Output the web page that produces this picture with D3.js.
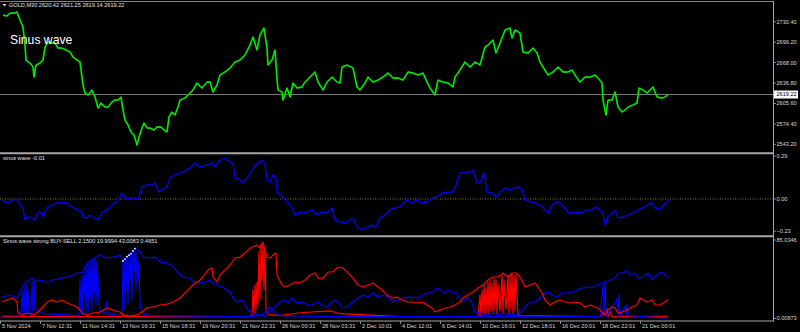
<!DOCTYPE html>
<html>
<head>
<meta charset="utf-8">
<script src="https://cdn.jsdelivr.net/npm/d3@7/dist/d3.min.js"></script>
<style>
  html, body { margin: 0; padding: 0; background: #000; }
  svg { display: block; }
  text { font-family: "Liberation Sans", Arial, sans-serif; }
</style>
</head>
<body>
<svg id="chart" width="800" height="332"></svg>
<script>
// bar index (compressed M30 bars)
const priceTicks = [2730.40, 2699.20, 2668.00, 2636.80, 2605.60, 2574.40, 2543.20];
const lastPrice = 2619.22;
const timeLabels = ['5 Nov 2024', '7 Nov 12:31', '11 Nov 14:31', '13 Nov 16:31', '15 Nov 18:31',
  '19 Nov 20:31', '21 Nov 22:31', '26 Nov 00:31', '28 Nov 03:31', '2 Dec 10:01', '4 Dec 12:01',
  '6 Dec 14:01', '10 Dec 16:01', '12 Dec 18:01', '16 Dec 20:01', '18 Dec 22:01', '21 Dec 00:01'];
const barsPerLabel = 40;

const price = [
  [3,2740.6],[7,2739.1],[10,2743.6],[15,2743.6],[17,2745.2],[20,2733.0],[23,2722.3],[25,2694.8],
  [26,2671.9],[28,2668.8],[30,2667.3],[33,2661.2],[34,2645.9],[36,2664.2],[40,2667.3],[43,2671.9],
  [45,2691.7],[48,2699.4],[52,2697.8],[55,2697.8],[58,2690.2],[62,2690.2],[66,2687.2],[70,2684.1],
  [73,2676.5],[77,2671.9],[80,2668.8],[83,2633.7],[85,2621.5],[88,2618.4],[92,2626.1],[95,2615.4],
  [98,2598.6],[101,2606.2],[105,2600.1],[108,2600.1],[112,2607.7],[115,2610.8],[118,2610.8],[121,2615.4],
  [123,2595.5],[125,2580.3],[128,2572.6],[131,2562.0],[134,2557.4],[137,2542.1],[139,2554.3],[142,2568.0],
  [144,2575.7],[147,2568.0],[150,2568.0],[154,2565.0],[157,2569.6],[161,2569.6],[164,2565.0],[167,2562.0],
  [169,2584.8],[172,2592.5],[175,2587.9],[178,2600.1],[180,2610.8],[185,2613.9],[190,2621.5],[193,2626.1],
  [197,2636.8],[202,2629.1],[207,2638.3],[210,2638.3],[213,2623.0],[217,2633.7],[220,2649.0],[225,2653.6],
  [230,2659.7],[235,2668.8],[240,2671.9],[245,2679.5],[250,2694.8],[253,2707.0],[257,2687.2],[260,2710.1],
  [264,2720.7],[267,2690.2],[268,2664.2],[272,2671.9],[275,2687.2],[277,2644.4],[278,2626.1],[282,2623.0],
  [283,2610.8],[287,2629.1],[290,2615.4],[293,2636.8],[297,2629.1],[302,2630.7],[305,2638.3],[310,2645.9],
  [315,2653.6],[318,2638.3],[323,2626.1],[327,2638.3],[332,2645.9],[337,2638.3],[340,2636.8],[342,2661.2],
  [347,2664.2],[353,2659.7],[357,2630.7],[360,2626.1],[365,2636.8],[368,2645.9],[373,2638.3],[378,2641.3],
  [383,2645.9],[388,2652.0],[393,2644.4],[398,2644.4],[403,2641.3],[408,2653.6],[413,2652.0],[418,2649.0],
  [423,2652.0],[427,2638.3],[430,2629.1],[435,2618.4],[438,2641.3],[443,2638.3],[448,2636.8],[453,2630.7],
  [455,2645.9],[460,2656.6],[465,2668.8],[470,2661.2],[475,2668.8],[480,2664.2],[485,2691.7],[488,2694.8],
  [493,2702.4],[496,2682.6],[500,2697.8],[505,2717.7],[510,2720.7],[512,2705.5],[515,2717.7],[520,2713.1],
  [523,2684.1],[528,2682.6],[533,2690.2],[537,2682.6],[540,2668.8],[543,2661.2],[548,2649.0],[553,2653.6],
  [558,2661.2],[563,2653.6],[568,2653.6],[572,2656.6],[575,2649.0],[580,2638.3],[585,2645.9],[590,2645.9],
  [595,2649.0],[598,2644.4],[602,2636.8],[603,2610.8],[606,2587.9],[608,2610.8],[612,2610.8],[615,2623.0],
  [618,2600.1],[622,2592.5],[625,2595.5],[628,2600.1],[633,2603.2],[637,2606.2],[639,2629.1],[643,2626.1],
  [647,2621.5],[650,2626.1],[653,2630.7],[657,2615.4],[662,2613.9],[665,2615.4],[668,2619.22]
];

const sinusTicks = [0.29, 0.00, -0.23];
const sinus = [
  [2,-0.006],[5,-0.019],[8,-0.026],[13,-0.006],[17,0],[20,-0.039],[23,-0.058],[25,-0.136],[28,-0.117],
  [32,-0.123],[35,-0.136],[38,-0.084],[42,-0.091],[43,-0.117],[47,-0.058],[52,-0.039],[57,-0.026],
  [62,-0.026],[67,-0.026],[72,-0.052],[77,-0.071],[82,-0.084],[83,-0.117],[87,-0.123],[90,-0.104],
  [93,-0.117],[98,-0.136],[102,-0.091],[107,-0.071],[112,-0.039],[117,-0.019],[122,0.039],[125,0.006],
  [130,0.006],[135,0.006],[138,-0.006],[142,0.078],[147,0.091],[152,0.091],[155,0.104],[159,0.045],
  [163,0.065],[167,0.078],[170,0.136],[175,0.156],[183,0.175],[190,0.201],[195,0.234],[200,0.208],
  [207,0.221],[212,0.234],[215,0.208],[220,0.253],[225,0.266],[230,0.240],[233,0.234],[235,0.136],
  [240,0.123],[243,0.104],[248,0.143],[253,0.201],[258,0.234],[263,0.253],[265,0.221],[267,0.123],
  [270,0.110],[273,0.156],[276,0.136],[277,0.045],[282,0.013],[285,-0.006],[288,-0.026],[292,-0.058],
  [295,-0.104],[300,-0.084],[305,-0.091],[312,-0.071],[317,-0.104],[322,-0.084],[327,-0.091],[332,-0.058],
  [335,-0.136],[340,-0.149],[345,-0.156],[350,-0.136],[353,-0.123],[357,-0.182],[362,-0.201],[367,-0.182],
  [372,-0.169],[375,-0.188],[380,-0.123],[385,-0.104],[390,-0.071],[395,-0.058],[400,-0.052],[407,-0.006],
  [412,-0.026],[417,-0.006],[422,-0.026],[427,-0.019],[432,0.006],[437,0.013],[442,0.039],[447,0.045],
  [452,0.045],[455,0.071],[460,0.169],[465,0.169],[470,0.175],[473,0.188],[477,0.104],[480,0.104],
  [484,0.169],[487,0.045],[492,0.039],[497,0.013],[500,0.045],[505,0.071],[510,0.058],[515,0.071],
  [518,0.078],[522,0.058],[525,-0.006],[530,-0.019],[535,-0.026],[540,-0.039],[543,-0.058],[548,-0.091],
  [552,-0.039],[557,-0.019],[560,-0.026],[565,-0.058],[568,-0.091],[573,-0.091],[578,-0.084],[582,-0.091],
  [587,-0.071],[592,-0.071],[596,-0.052],[600,-0.071],[603,-0.091],[605,-0.169],[608,-0.117],[612,-0.091],
  [615,-0.071],[618,-0.123],[623,-0.117],[628,-0.104],[633,-0.091],[638,-0.071],[643,-0.058],[647,-0.039],
  [652,-0.026],[655,-0.058],[660,-0.071],[663,-0.039],[667,-0.026],[669,-0.01]
];

const strongTicks = [85.0346, 0.00873];
const buyMain = [
  [2,22.4],[10,24.5],[17,21.4],[23,34.9],[27,38.1],[32,42.2],[35,38.1],[40,40.2],[47,38.1],[53,40.2],
  [60,42.2],[67,43.3],[73,45.4],[78,47.5],[83,48.5],[87,57.9],[92,61.0],[97,64.1],[100,66.2],[107,63.1],
  [113,64.1],[120,66.2],[123,61.0],[128,66.2],[133,71.4],[135,73.5],[140,69.4],[143,64.1],[150,63.1],
  [155,64.1],[160,58.9],[167,57.9],[173,54.8],[177,48.5],[183,43.3],[190,42.2],[193,38.1],[198,38.1],
  [203,37.0],[210,40.2],[213,37.0],[217,34.9],[222,32.9],[227,29.7],[230,27.6],[233,21.4],[237,17.2],
  [242,19.3],[245,14.1],[248,8.9],[252,5.7],[257,3.7],[262,3.7],[265,1.6],[268,5.7],[272,8.9],[275,12.0],
  [280,17.2],[285,19.3],[288,16.2],[292,21.4],[297,16.2],[302,17.2],[307,14.1],[313,14.1],[318,17.2],
  [322,14.1],[327,12.0],[332,17.2],[335,19.3],[338,17.2],[342,11.0],[347,12.0],[353,17.2],[358,21.4],
  [363,24.5],[368,22.4],[373,26.6],[378,22.4],[383,24.5],[388,22.4],[393,17.2],[398,19.3],[403,21.4],
  [408,22.4],[413,22.4],[418,21.4],[423,24.5],[428,26.6],[433,27.6],[437,31.8],[440,29.7],[445,26.6],
  [448,29.7],[453,27.6],[457,26.6],[460,19.3],[465,19.3],[468,21.4],[472,16.2],[475,6.8],[480,5.7],
  [487,3.7],[493,5.7],[498,3.7],[503,5.7],[508,3.7],[513,4.7],[517,3.7],[520,5.7],[525,12.0],[530,17.2],
  [535,17.2],[540,21.4],[545,26.6],[548,27.6],[552,24.5],[557,22.4],[562,26.6],[567,26.6],[572,27.6],
  [577,29.7],[582,31.8],[587,32.9],[592,31.8],[597,34.9],[602,37.0],[605,38.1],[610,40.2],[615,42.2],
  [618,47.5],[623,47.5],[627,50.6],[630,45.4],[635,47.5],[638,42.2],[643,43.3],[648,47.5],[652,40.2],
  [657,45.4],[662,48.5],[665,45.4],[668,43.0083]
];
const sellMain = [
  [2,17.2],[7,19.3],[13,21.4],[17,17.2],[18,5.7],[22,3.7],[27,5.7],[33,3.7],[38,6.8],[43,12.0],[47,17.2],
  [52,19.3],[57,17.2],[62,19.3],[67,16.2],[72,14.1],[77,12.0],[80,8.9],[82,5.7],[87,3.7],[93,5.7],
  [100,6.8],[107,11.0],[113,8.9],[120,6.8],[123,3.7],[130,2.6],[137,3.7],[142,6.8],[147,11.0],[153,12.0],
  [160,14.1],[167,15.1],[173,17.2],[180,21.4],[185,26.6],[190,31.8],[195,37.0],[198,38.1],[203,43.3],
  [208,50.6],[212,52.7],[213,43.3],[217,38.1],[220,45.4],[225,50.6],[230,55.8],[235,63.1],[240,64.1],
  [245,68.3],[248,71.4],[252,74.6],[257,76.6],[260,73.5],[263,78.7],[267,64.1],[270,63.1],[273,66.2],
  [276,68.3],[277,45.4],[282,34.9],[285,32.9],[290,34.9],[295,38.1],[300,37.0],[305,40.2],[310,45.4],
  [315,47.5],[318,42.2],[323,42.2],[328,48.5],[333,48.5],[338,53.7],[343,52.7],[348,47.5],[353,42.2],
  [358,34.9],[363,32.9],[368,34.9],[373,37.0],[378,32.9],[382,29.7],[387,24.5],[392,21.4],[397,22.4],
  [402,19.3],[407,17.2],[412,17.2],[417,16.2],[422,17.2],[427,14.1],[432,11.0],[435,6.8],[440,8.9],
  [445,11.0],[450,12.0],[455,14.1],[460,17.2],[463,21.4],[468,24.5],[473,27.6],[478,31.8],[483,34.9],
  [488,40.2],[493,43.3],[498,43.3],[503,47.5],[508,43.3],[512,47.5],[517,47.5],[522,40.2],[525,32.9],
  [530,34.9],[535,37.0],[538,32.9],[542,26.6],[545,19.3],[550,14.1],[555,17.2],[560,19.3],[565,17.2],
  [570,16.2],[575,17.2],[580,16.2],[585,12.0],[590,14.1],[595,12.0],[598,11.0],[602,6.8],[605,3.7],
  [608,8.9],[612,12.0],[615,11.0],[618,5.7],[622,6.8],[627,8.9],[632,12.0],[637,14.1],[640,21.4],
  [647,17.2],[652,19.3],[655,14.1],[660,14.1],[665,17.2],[668,19.9994]
];
const buyPulse = [
  [2,3],[15,3],[21,3],[22,28],[23,4],[24,33],[25,5],[26,35],[27,3],[28,30],[29,6],[31,5],[32,38],[33,4],
  [34,40],[35,10],[38,8],[45,5],[60,4],[79,3],[80,40],[81,5],[82,45],[83,4],[84,48],[86,6],[87,55],[88,8],
  [89,58],[90,20],[91,60],[92,10],[93,62],[94,25],[95,64],[96,15],[97,60],[98,40],[99,20],[100,8],[105,6],
  [107,18],[108,5],[110,4],[122,3],[123,60],[124,10],[125,62],[126,30],[127,64],[128,15],[129,66],[130,40],
  [131,68],[132,20],[133,70],[134,50],[135,72],[136,30],[137,68],[138,40],[139,60],[140,15],[142,5],
  [150,3],[250,2],[262,3],[266,8],[270,12],[275,6],[280,3],[330,2],[400,2],[470,2],[600,2],[603,35],
  [604,3],[605,38],[606,2],[617,20],[618,2],[619,25],[620,3],[625,12],[626,3],[627,15],[628,3],[668,0.4651]
];
const sellPulse = [
  [2,2],[250,2],[252,3],[253,30],[254,5],[255,35],[256,10],[257,38],[258,15],[259,70],[260,20],[261,78],
  [262,40],[263,80],[264,30],[265,75],[266,10],[268,4],[280,3],[300,6],[330,8],[340,5],[400,2],[478,2],
  [480,25],[481,3],[482,30],[483,5],[484,35],[485,4],[486,32],[487,6],[488,38],[489,5],[490,40],[491,8],
  [492,36],[493,5],[494,42],[495,10],[496,40],[497,4],[498,35],[500,8],[502,45],[503,5],[504,40],[506,10],
  [508,45],[509,5],[510,45],[511,10],[512,47],[513,5],[514,45],[515,8],[516,46],[518,4],[520,3],[600,2],
  [607,10],[608,2],[610,8],[612,2],[668,2.15]
];
const signalDots = [[123,60.0],[125,62.0],[127,64.5],[129,66.0],[131,67.5],[133,70.5],[135,73.0]];

const svg = d3.select('#chart');
const W = 773;

const x = d3.scaleLinear().domain([0, 773]).range([0, W]);
const yPrice = d3.scaleLinear().domain([2543.2, 2730.4]).range([144.3, 21.7]);
const ySin = d3.scaleLinear().domain([-0.23, 0.29]).range([234.4, 154.3]);
const yStr = d3.scaleLinear().domain([0.00873, 85.0346]).range([318.5, 237]);

const panels = [
  { id: 'p1', top: 2, bottom: 152 },
  { id: 'p2', top: 154.5, bottom: 235 },
  { id: 'p3', top: 237.5, bottom: 320.5 }
];

const defs = svg.append('defs');
panels.forEach(p => {
  defs.append('clipPath').attr('id', 'clip-' + p.id)
    .append('rect').attr('x', 0).attr('y', p.top).attr('width', W).attr('height', p.bottom - p.top);
});

// frames / separators
svg.append('rect').attr('width', 800).attr('height', 332).attr('fill', '#000');
svg.append('line').attr('x1', 0).attr('x2', W + 0.5).attr('y1', 1.5).attr('y2', 1.5)
  .attr('stroke', '#808080').attr('stroke-width', 1);
[153.3, 236.2].forEach(yy => {
  svg.append('line').attr('x1', 0).attr('x2', W + 0.5).attr('y1', yy).attr('y2', yy)
    .attr('stroke', '#a8a8a8').attr('stroke-width', 2);
});
svg.append('line').attr('x1', 0).attr('x2', W + 0.5).attr('y1', 321).attr('y2', 321)
  .attr('stroke', '#a8a8a8').attr('stroke-width', 1);
svg.append('line').attr('x1', W + 0.5).attr('x2', W + 0.5).attr('y1', 1).attr('y2', 321.5)
  .attr('stroke', '#a8a8a8').attr('stroke-width', 1);

function lineFor(yScale) {
  return d3.line().x(d => x(d[0])).y(d => yScale(d[1]));
}

// panel 1: price
const g1 = svg.append('g').attr('clip-path', 'url(#clip-p1)');
g1.append('line').attr('x1', 0).attr('x2', W).attr('y1', yPrice(lastPrice)).attr('y2', yPrice(lastPrice))
  .attr('stroke', '#7a7a7a').attr('stroke-width', 1);
g1.append('path').datum(price).attr('d', lineFor(yPrice))
  .attr('fill', 'none').attr('stroke', '#00a800').attr('stroke-width', 1.8).attr('stroke-linejoin', 'round');
g1.append('path').datum(price).attr('d', lineFor(yPrice))
  .attr('fill', 'none').attr('stroke', '#00ff00').attr('stroke-width', 0.9).attr('stroke-linejoin', 'round');

// panel 2: sinus wave
const g2 = svg.append('g').attr('clip-path', 'url(#clip-p2)');
g2.append('line').attr('x1', 0).attr('x2', W).attr('y1', ySin(0)).attr('y2', ySin(0))
  .attr('stroke', '#8a7a20').attr('stroke-width', 1).attr('stroke-dasharray', '1,1.5');
g2.append('path').datum(sinus).attr('d', lineFor(ySin))
  .attr('fill', 'none').attr('stroke', '#0000ff').attr('stroke-width', 1.3).attr('stroke-linejoin', 'round');

// panel 3: strong BUY-SELL
const g3 = svg.append('g').attr('clip-path', 'url(#clip-p3)');
[[sellPulse, '#ff0000'], [buyPulse, '#0000ff'], [buyMain, '#0000ff'], [sellMain, '#ff0000']].forEach(s => {
  g3.append('path').datum(s[0]).attr('d', lineFor(yStr))
    .attr('fill', 'none').attr('stroke', s[1]).attr('stroke-width', 1.2).attr('stroke-linejoin', 'round');
});
g3.selectAll('circle.sig').data(signalDots).enter().append('circle').attr('class', 'sig')
  .attr('cx', d => x(d[0])).attr('cy', d => yStr(d[1])).attr('r', 0.9).attr('fill', '#ffffff');

// right axis labels
const axisColor = '#d8d8d8';
const fs = '5.6px';
function rightLabel(txt, yy) {
  svg.append('line').attr('x1', W + 0.5).attr('x2', W + 3).attr('y1', yy).attr('y2', yy)
    .attr('stroke', '#a8a8a8').attr('stroke-width', 0.8);
  svg.append('text').attr('x', W + 3.5).attr('y', yy).attr('dy', '0.35em')
    .attr('fill', axisColor).attr('font-size', fs).text(txt);
}
priceTicks.forEach(t => rightLabel(d3.format('.2f')(t), yPrice(t)));
rightLabel(d3.format('.2f')(sinusTicks[0]), ySin(sinusTicks[0]) + 1.8);
rightLabel(d3.format('.2f')(sinusTicks[1]), ySin(sinusTicks[1]));
rightLabel(d3.format('.2f')(sinusTicks[2]), ySin(sinusTicks[2]) - 3.2);
rightLabel(String(strongTicks[0]), yStr(strongTicks[0]) + 3);
rightLabel(String(strongTicks[1]), yStr(strongTicks[1]));

// current price box
const yl = yPrice(lastPrice);
svg.append('rect').attr('x', W + 1).attr('y', yl - 4).attr('width', 24).attr('height', 8)
  .attr('fill', '#ffffff');
svg.append('text').attr('x', W + 3.5).attr('y', yl).attr('dy', '0.35em')
  .attr('fill', '#000').attr('font-size', fs).text(d3.format('.2f')(lastPrice));

// time axis
timeLabels.forEach((t, i) => {
  const xx = x(i * barsPerLabel);
  svg.append('line').attr('x1', xx + 0.5).attr('x2', xx + 0.5).attr('y1', 321).attr('y2', 324)
    .attr('stroke', '#a8a8a8').attr('stroke-width', 0.8);
  svg.append('text').attr('x', xx + 2).attr('y', 326.5).attr('dy', '0.35em')
    .attr('fill', axisColor).attr('font-size', fs).text(t);
});

// titles
svg.append('path').attr('d', 'M2.5,4 L6.5,4 L4.5,6.5 Z').attr('fill', '#e0e0e0');
svg.append('text').attr('x', 9).attr('y', 5.5).attr('dy', '0.35em').attr('fill', '#e0e0e0')
  .attr('font-size', fs).text('GOLD,M30  2620.42 2621.25 2619.14 2619.22');
svg.append('text').attr('x', 10).attr('y', 43.5).attr('fill', '#ffffff')
  .attr('font-size', '12.2px').text('Sinus wave');
svg.append('text').attr('x', 3).attr('y', 158).attr('dy', '0.35em').attr('fill', '#e0e0e0')
  .attr('font-size', fs).text('sinus wave -0.01');
svg.append('text').attr('x', 3).attr('y', 241).attr('dy', '0.35em').attr('fill', '#e0e0e0')
  .attr('font-size', fs).text('Sinus wave strong BUY-SELL 2.1500 19.9994 43.0083 0.4651');
</script>
</body>
</html>
